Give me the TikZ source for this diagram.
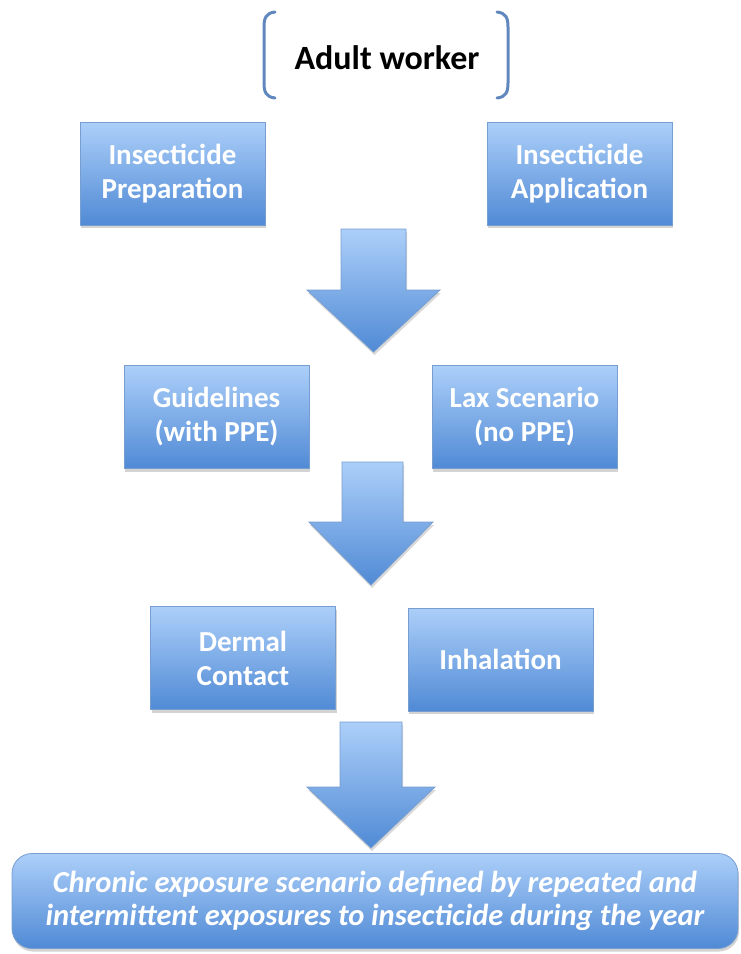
\documentclass[tikz,border=0pt]{standalone}
\usepackage{fontspec}
\setmainfont{Carlito}
\usetikzlibrary{shadows}
\definecolor{boxtop}{RGB}{172,207,249}
\definecolor{boxbot}{RGB}{80,138,213}
\definecolor{boxline}{RGB}{118,158,208}
\definecolor{bracketc}{RGB}{96,136,190}
\tikzset{
  box/.style={draw=boxline, line width=0.8pt, top color=boxtop, bottom color=boxbot,
    text=white, align=center, inner sep=0pt,
    font=\bfseries\fontsize{29}{34}\selectfont,
    minimum width=185pt, minimum height=103pt,
    drop shadow={opacity=0.35, shadow xshift=1pt, shadow yshift=-3pt}},
  bigarrow/.style={draw=boxline, line width=0.8pt, top color=boxtop, bottom color=boxbot,
    drop shadow={opacity=0.3, shadow xshift=1pt, shadow yshift=-3pt}},
  bracket/.style={draw=bracketc, line width=3pt, line cap=round}
}
\begin{document}
\begin{tikzpicture}[x=1pt,y=-1pt]
\path[use as bounding box] (0,0) rectangle (740,954);
% top label with brackets
\node[font=\bfseries\fontsize{34}{40}\selectfont, text=black, anchor=base, inner sep=0pt] (adult) at (387,69) {Adult worker};
\draw[bracket] (275,12) .. controls (266,13) and (264,18) .. (264,27) -- (264,83) .. controls (264,92) and (266,97) .. (275,98);
\draw[bracket] (497,12) .. controls (506,13) and (508,18) .. (508,27) -- (508,83) .. controls (508,92) and (506,97) .. (497,98);
% first row
\node[box] (prep) at (172.5,173.5) {Insecticide\\Preparation};
\node[box] (appl) at (579.5,173.5) {Insecticide\\Application};
% arrow 1
\path[bigarrow] (341,229) -- (406,229) -- (406,290) -- (440,290) -- (373.5,352) -- (307,290) -- (341,290) -- cycle;
% second row
\node[box] (guid) at (216.5,417) {Guidelines\\(with PPE)};
\node[box] (lax) at (524.5,417) {Lax Scenario\\(no PPE)};
% arrow 2
\path[bigarrow] (342,462) -- (403,462) -- (403,522) -- (433,522) -- (371,585) -- (309,522) -- (342,522) -- cycle;
% third row
\node[box] (derm) at (243,658) {Dermal\\Contact};
\node[box] (inh) at (500.5,659.5) {Inhalation};
% arrow 3
\path[bigarrow] (340,722) -- (402,722) -- (402,787) -- (435,787) -- (371,848) -- (307,787) -- (340,787) -- cycle;
% bottom box
\node[box, rounded corners=20pt, minimum width=726pt, minimum height=95pt,
  font=\bfseries\itshape\fontsize{30.5}{33}\selectfont] (chronic) at (375,901)
  {Chronic exposure scenario defined by repeated and\\intermittent exposures to insecticide during the year};
\end{tikzpicture}
\end{document}
